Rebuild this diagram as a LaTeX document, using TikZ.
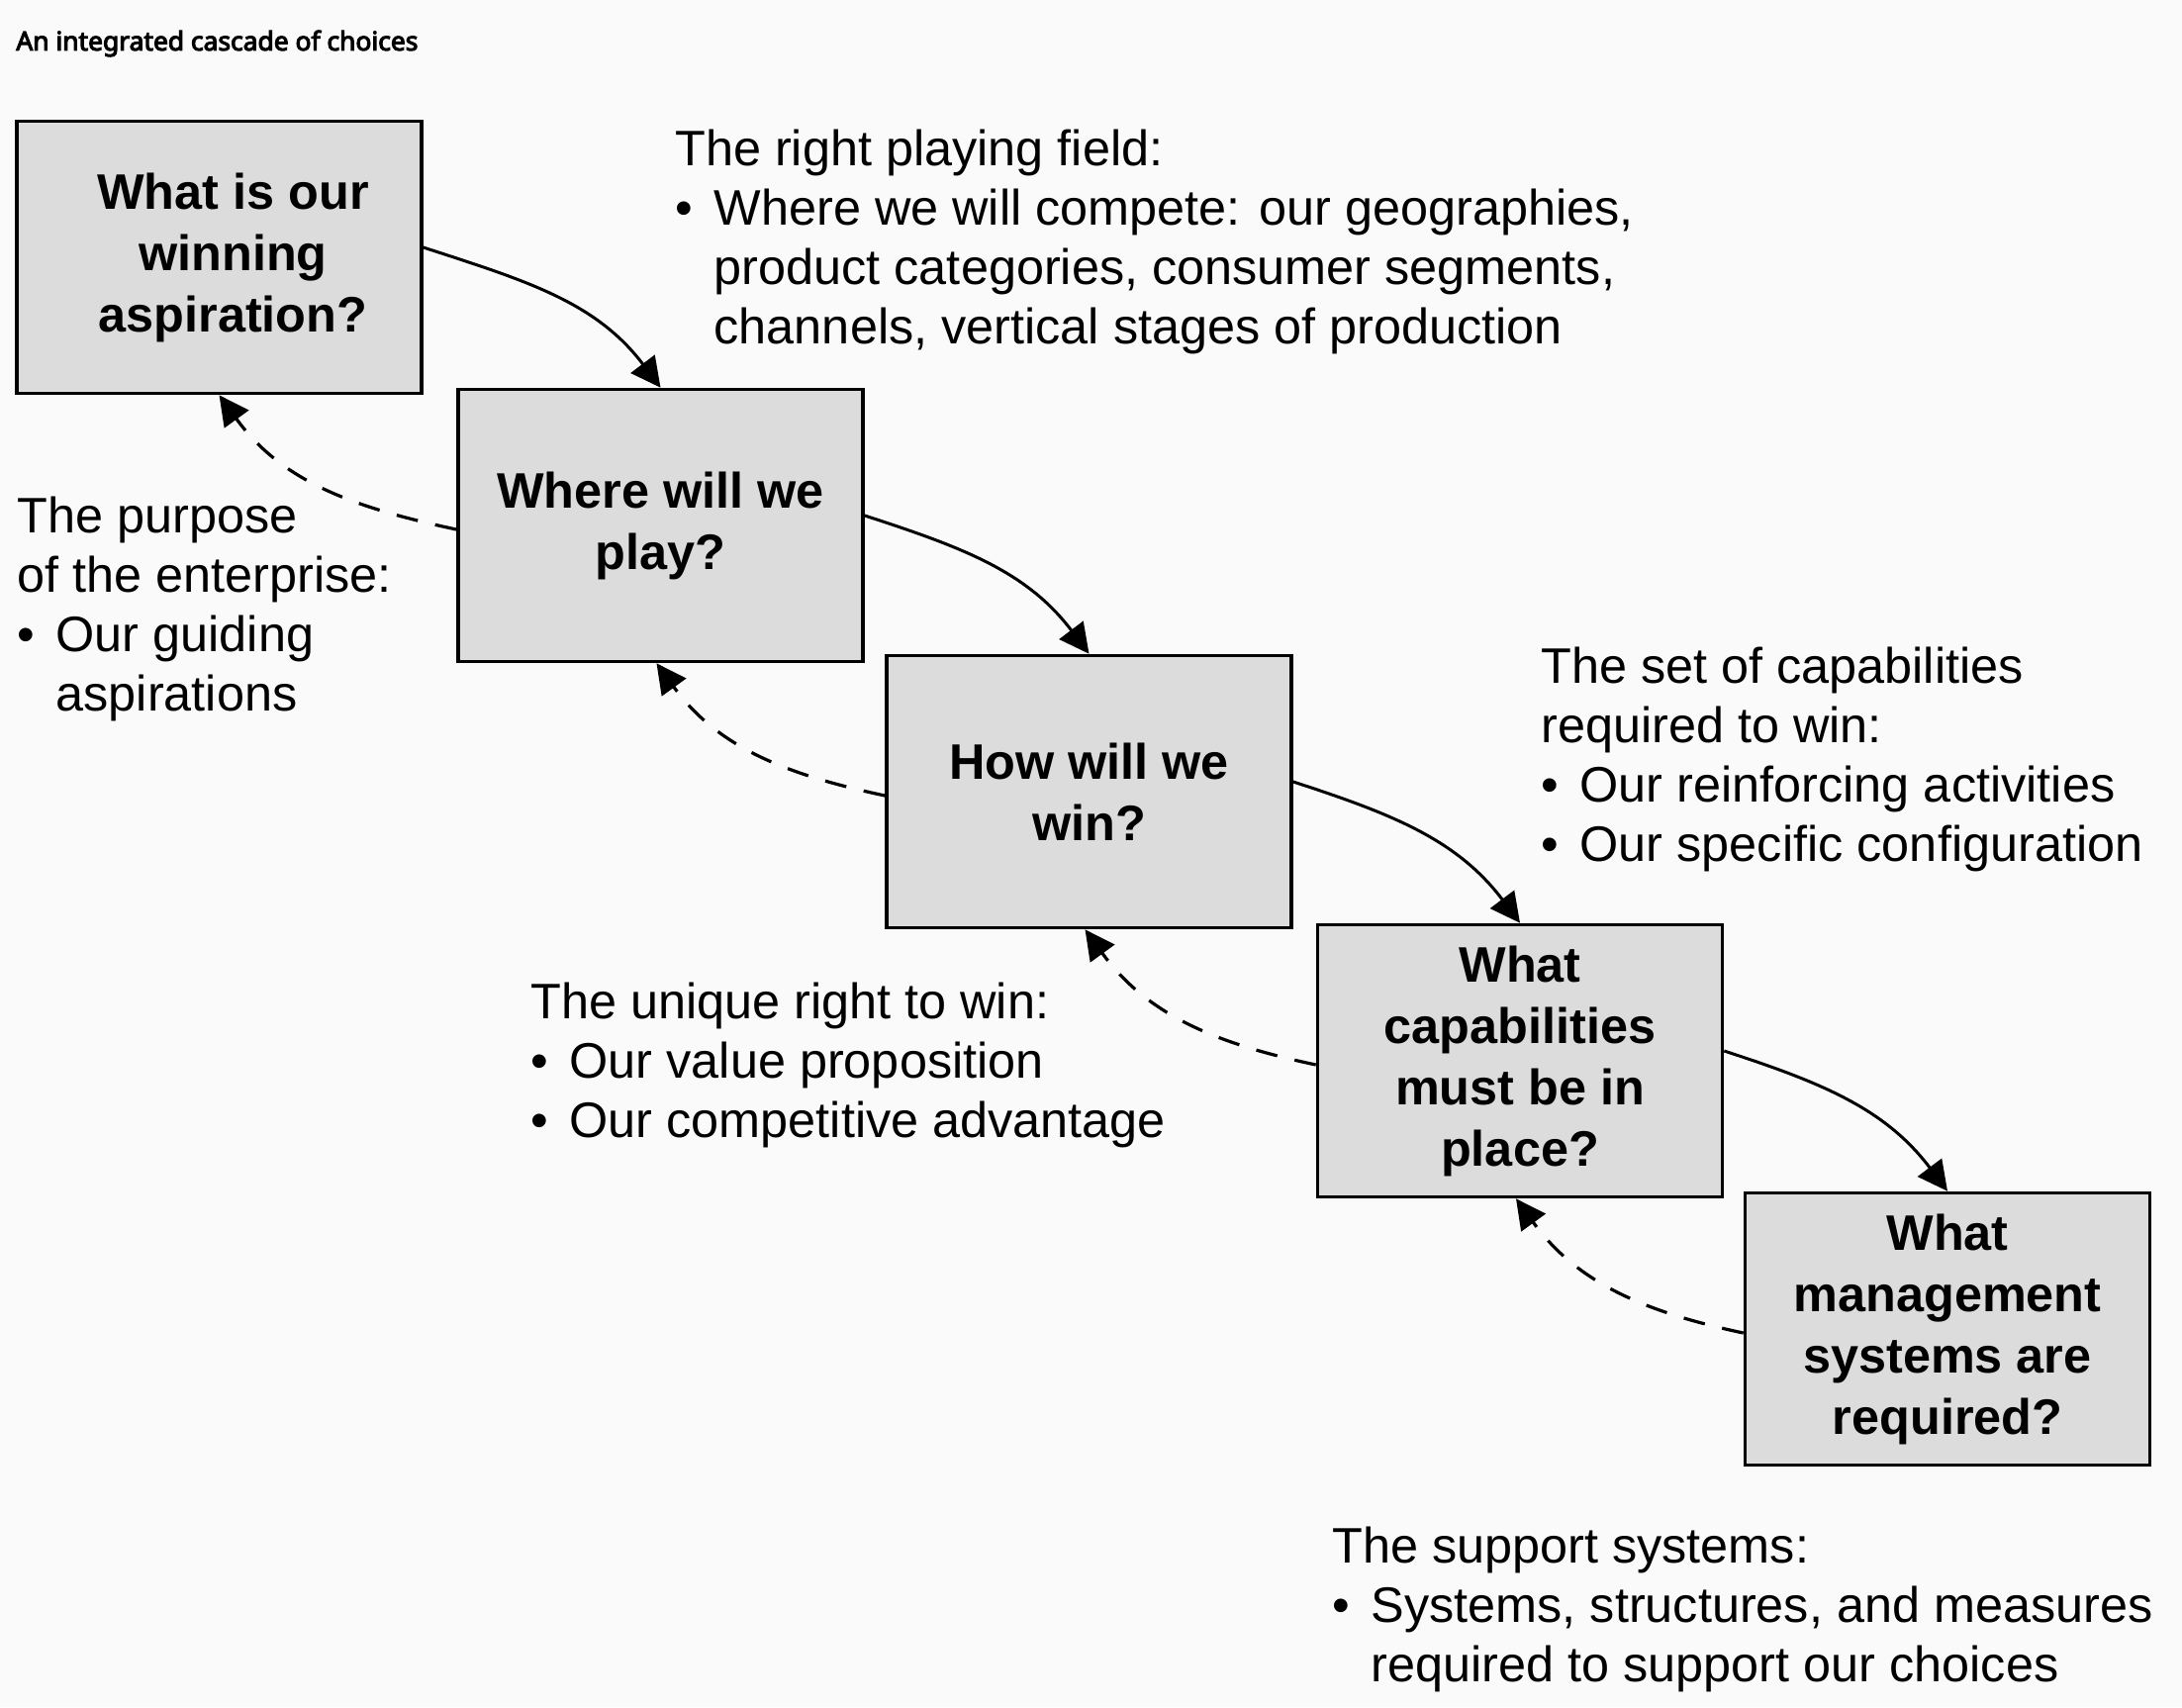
\documentclass[tikz,border=0pt]{standalone}
\usepackage{fontspec}
\setmainfont{Liberation Sans}
\newfontfamily\titlefont{Noto Sans}[FakeBold=4]
\usetikzlibrary{arrows.meta}
\definecolor{bgc}{HTML}{FAFAFA}
\definecolor{boxc}{HTML}{DCDCDC}
\newcommand{\bulitem}{\makebox[0.78em][l]{•}}
\newcommand{\bulind}{\hspace*{0.78em}}
\newcommand{\shr}{\hspace*{14pt}}
\begin{document}
\begin{tikzpicture}[x=0.5pt,y=-0.5pt,
  qbox/.style={draw=black, line width=1.8pt, fill=boxc, minimum width=204.5pt, minimum height=137.5pt, inner sep=0pt, align=center, font=\fontsize{25.2}{31}\selectfont\bfseries},
  note/.style={anchor=north west, inner sep=0pt, align=left, font=\fontsize{25.2}{30}\selectfont},
  fwd/.style={line width=1.5pt, -{Triangle[length=15pt,width=15pt]}},
  back/.style={line width=1.6pt, dash pattern=on 11pt off 9pt, -{Triangle[length=15pt,width=15pt]}}
]
\fill[bgc] (0,0) rectangle (2205,1725);
\useasboundingbox (0,0) rectangle (2205,1725);

\node[anchor=west, inner sep=0pt, font=\titlefont\fontsize{13.2}{15}\selectfont] (title) at (16,44) {An integrated cascade of choices};

\node[qbox] (b1) at (221.5,260) {\shr What is our\\\shr winning\\\shr aspiration?};
\node[qbox] (b2) at (667.5,531) {Where will we\\play?};
\node[qbox] (b3) at (1100.5,800) {How will we\\win?};
\node[qbox] (b4) at (1536,1072) {What\\capabilities\\must be in\\place?};
\node[qbox] (b5) at (1968,1343) {What\\management\\systems are\\required?};

\draw[fwd] ([yshift=5pt]b1.east) to[out=-18,in=127] (b2.north);
\draw[fwd] ([yshift=5pt]b2.east) to[out=-18,in=127] (b3.north);
\draw[fwd] ([yshift=5pt]b3.east) to[out=-18,in=127] (b4.north);
\draw[fwd] ([yshift=5pt]b4.east) to[out=-18,in=127] (b5.north);

\draw[back] ([yshift=-2pt]b2.west) to[out=168,in=-54] ([xshift=0pt]b1.south);
\draw[back] ([yshift=-2pt]b3.west) to[out=168,in=-54] ([xshift=-2pt]b2.south);
\draw[back] ([yshift=-2pt]b4.west) to[out=168,in=-54] ([xshift=-2pt]b3.south);
\draw[back] ([yshift=-2pt]b5.west) to[out=168,in=-54] ([xshift=-2pt]b4.south);

\node[note] (field) at (682,131) {The right playing field:\\\bulitem Where we will compete: our geographies,\\\bulind product categories, consumer segments,\\\bulind channels, vertical stages of production};
\node[note] (purpose) at (17,502) {The purpose\\of the enterprise:\\\bulitem Our guiding\\\bulind aspirations};
\node[note] (capab) at (1557,654) {The set of capabilities\\required to win:\\\bulitem Our reinforcing activities\\\bulitem Our specific configuration};
\node[note] (unique) at (536,993) {The unique right to win:\\\bulitem Our value proposition\\\bulitem Our competitive advantage};
\node[note] (support) at (1346,1543) {The support systems:\\\bulitem Systems, structures, and measures\\\bulind required to support our choices};
\end{tikzpicture}
\end{document}
